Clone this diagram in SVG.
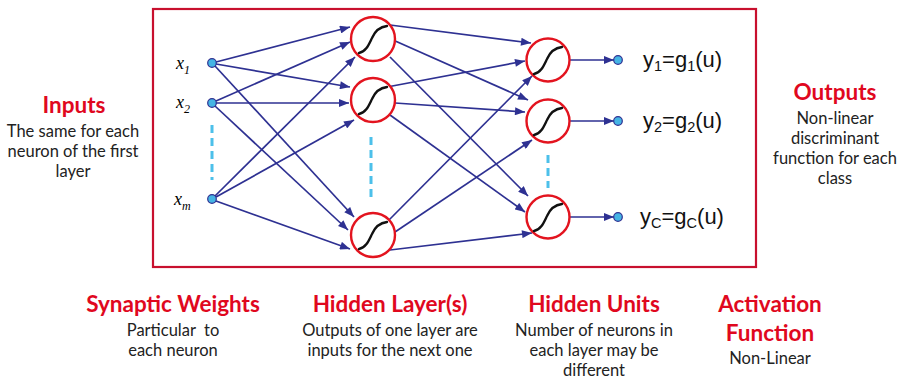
<svg xmlns="http://www.w3.org/2000/svg" width="900" height="380" viewBox="0 0 900 380">
  <defs>
    <marker id="head" viewBox="0 0 10 8" refX="10" refY="4" markerWidth="11" markerHeight="8" markerUnits="userSpaceOnUse" orient="auto">
      <path d="M0,0 L10,4 L0,8 z" fill="#2e3192"/>
    </marker>
    <path id="sig" d="M-14,14 C-7,13 -4,5 -1,-1 C2,-8 6,-12 14,-13" fill="none" stroke="#111" stroke-width="2.4" stroke-linecap="round"/>
  </defs>
  <style>
    .frame { fill: none; stroke: #c8102e; stroke-width: 2.2; }
    .edge { stroke: #2e3192; stroke-width: 1.7; fill: none; marker-end: url(#head); }
    .neuron { fill: #fff; stroke: #e3141f; stroke-width: 2.4; }
    .dot { fill: #45b4e4; stroke: #2e3192; stroke-width: 1.2; }
    .dash { stroke: #4cc0ea; stroke-width: 3; stroke-dasharray: 8 5; fill: none; }
    .xlab { font-family: "Liberation Serif", serif; font-style: italic; font-size: 18px; fill: #000; }
    .xsub { font-size: 12px; }
    .ylab { font-family: "Liberation Sans", Arial, sans-serif; font-size: 22px; fill: #111; }
    .ysub { font-size: 14.5px; }
    .head { font-family: Lato, "Open Sans", sans-serif; font-weight: bold; font-size: 22.5px; fill: #e0081e; text-anchor: middle; }
    .body { font-family: Lato, "Open Sans", sans-serif; font-size: 16.5px; fill: #222; text-anchor: middle; }
  </style>

  <rect class="frame" x="153" y="9" width="603" height="258"/>

  <!-- weighted connections -->
  <g id="connectors">
    <!-- inputs to hidden layer -->
    <line class="edge" x1="216" y1="62" x2="350" y2="27"/>
    <line class="edge" x1="216" y1="64" x2="350" y2="87"/>
    <line class="edge" x1="215" y1="66" x2="354" y2="217"/>
    <line class="edge" x1="216" y1="101" x2="350" y2="42"/>
    <line class="edge" x1="216" y1="103" x2="349" y2="103"/>
    <line class="edge" x1="215" y1="106" x2="348" y2="230"/>
    <line class="edge" x1="215" y1="196" x2="355" y2="57"/>
    <line class="edge" x1="216" y1="197" x2="354" y2="120"/>
    <line class="edge" x1="216" y1="201" x2="350" y2="249"/>
    <!-- hidden layer to outputs -->
    <line class="edge" x1="390" y1="25" x2="531" y2="43"/>
    <line class="edge" x1="387" y1="87" x2="525" y2="61"/>
    <line class="edge" x1="387" y1="222" x2="532" y2="76"/>
    <line class="edge" x1="393" y1="40" x2="528" y2="100"/>
    <line class="edge" x1="395" y1="103" x2="525" y2="112"/>
    <line class="edge" x1="395" y1="232" x2="532" y2="140"/>
    <line class="edge" x1="390" y1="57" x2="528" y2="196"/>
    <line class="edge" x1="390" y1="115" x2="525" y2="212"/>
    <line class="edge" x1="390" y1="250" x2="532" y2="233"/>
    <!-- outputs -->
    <line class="edge" x1="570" y1="60" x2="614" y2="60"/>
    <line class="edge" x1="570" y1="121" x2="614" y2="121"/>
    <line class="edge" x1="570" y1="217" x2="614" y2="217"/>
  </g>

  <!-- continuation marks -->
  <line class="dash" x1="212" y1="125" x2="212" y2="180"/>
  <line class="dash" x1="371" y1="137" x2="371" y2="201"/>
  <line class="dash" x1="548" y1="155" x2="548" y2="188"/>

  <!-- input nodes -->
  <g id="x1">
    <circle class="dot" cx="212" cy="63" r="4.3"/>
    <text class="xlab" x="176" y="69">x<tspan class="xsub" dy="5">1</tspan></text>
  </g>
  <g id="x2">
    <circle class="dot" cx="212" cy="103" r="4.3"/>
    <text class="xlab" x="176" y="108">x<tspan class="xsub" dy="5">2</tspan></text>
  </g>
  <g id="xm">
    <circle class="dot" cx="212" cy="199" r="4.3"/>
    <text class="xlab" x="174" y="205">x<tspan class="xsub" dy="5">m</tspan></text>
  </g>

  <!-- hidden neurons -->
  <g id="h1">
    <circle class="neuron" cx="373" cy="39" r="22"/>
    <use href="#sig" x="373" y="39"/>
  </g>
  <g id="h2">
    <circle class="neuron" cx="373" cy="100" r="22"/>
    <use href="#sig" x="373" y="100"/>
  </g>
  <g id="h3">
    <circle class="neuron" cx="373" cy="235" r="22"/>
    <use href="#sig" x="373" y="235"/>
  </g>

  <!-- output neurons -->
  <g id="o1">
    <circle class="neuron" cx="548" cy="60" r="21.5"/>
    <use href="#sig" x="548" y="60"/>
  </g>
  <g id="o2">
    <circle class="neuron" cx="548" cy="121" r="21.5"/>
    <use href="#sig" x="548" y="121"/>
  </g>
  <g id="o3">
    <circle class="neuron" cx="548" cy="217" r="21.5"/>
    <use href="#sig" x="548" y="217"/>
  </g>

  <!-- output terminals -->
  <g id="y1">
    <circle class="dot" cx="618" cy="60" r="4.3"/>
    <text class="ylab" x="643" y="67">y<tspan class="ysub" dy="4">1</tspan><tspan dy="-4">=g</tspan><tspan class="ysub" dy="4">1</tspan><tspan dy="-4">(u)</tspan></text>
  </g>
  <g id="y2">
    <circle class="dot" cx="618" cy="121" r="4.3"/>
    <text class="ylab" x="643" y="128">y<tspan class="ysub" dy="4">2</tspan><tspan dy="-4">=g</tspan><tspan class="ysub" dy="4">2</tspan><tspan dy="-4">(u)</tspan></text>
  </g>
  <g id="yc">
    <circle class="dot" cx="618" cy="217" r="4.3"/>
    <text class="ylab" x="640" y="224">y<tspan class="ysub" dy="4">C</tspan><tspan dy="-4">=g</tspan><tspan class="ysub" dy="4">C</tspan><tspan dy="-4">(u)</tspan></text>
  </g>

  <!-- annotations -->
  <g id="inputs-note">
    <text class="head" x="74" y="113">Inputs</text>
    <text class="body" x="73" y="137">The same for each</text>
    <text class="body" x="73" y="157">neuron of the first</text>
    <text class="body" x="73" y="177">layer</text>
  </g>
  <g id="outputs-note">
    <text class="head" x="835" y="100">Outputs</text>
    <text class="body" x="835" y="124">Non-linear</text>
    <text class="body" x="835" y="144">discriminant</text>
    <text class="body" x="835" y="164">function for each</text>
    <text class="body" x="835" y="184">class</text>
  </g>
  <g id="weights-note">
    <text class="head" x="173" y="312">Synaptic Weights</text>
    <text class="body" x="173" y="336" xml:space="preserve">Particular  to</text>
    <text class="body" x="173" y="356">each neuron</text>
  </g>
  <g id="hidden-layer-note">
    <text class="head" x="390" y="312">Hidden Layer(s)</text>
    <text class="body" x="390" y="336">Outputs of one layer are</text>
    <text class="body" x="390" y="356">inputs for the next one</text>
  </g>
  <g id="hidden-units-note">
    <text class="head" x="594" y="312">Hidden Units</text>
    <text class="body" x="594" y="336">Number of neurons in</text>
    <text class="body" x="594" y="356">each layer may be</text>
    <text class="body" x="594" y="376">different</text>
  </g>
  <g id="activation-note">
    <text class="head" x="770" y="312">Activation</text>
    <text class="head" x="770" y="341">Function</text>
    <text class="body" x="770" y="364">Non-Linear</text>
  </g>
</svg>
